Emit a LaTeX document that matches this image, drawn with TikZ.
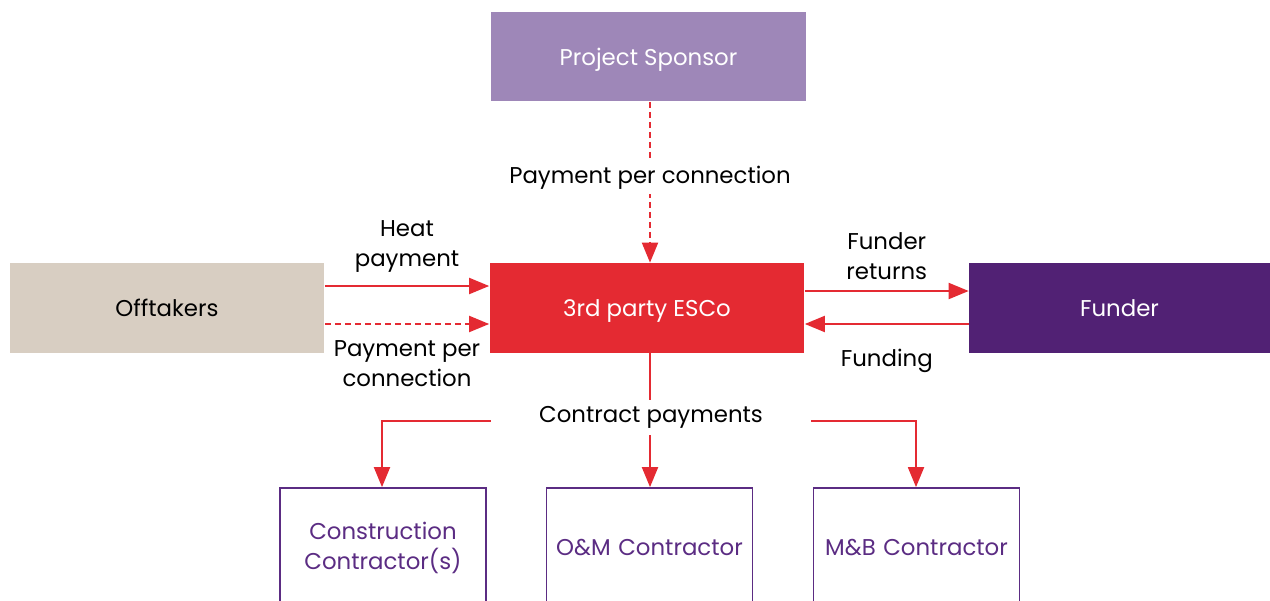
\documentclass[tikz,border=0pt]{standalone}
\usepackage{fontspec}
\setmainfont{Poppins}
\usepackage{xcolor}
\usetikzlibrary{arrows.meta, positioning}

\definecolor{escored}{HTML}{E42A32}
\definecolor{sponsorlilac}{HTML}{9E87B8}
\definecolor{offtakersand}{HTML}{D8CEC2}
\definecolor{funderplum}{HTML}{512174}
\definecolor{contractpurple}{HTML}{5B2C83}

\begin{document}
\begin{tikzpicture}[
  x=0.02cm, y=-0.02cm,
  font=\fontsize{13}{17}\selectfont,
  party/.style={
    rectangle, text centered, text height=10pt, text depth=0pt,
    minimum width=6.3cm, minimum height=1.8cm, inner sep=0pt
  },
  contractor/.style={
    rectangle, draw=contractpurple, fill=white, line width=1pt,
    text=contractpurple, text width=4cm, align=center,
    minimum width=4.12cm, minimum height=2.4cm, inner sep=0pt
  },
  flow/.style={draw=escored, line width=1.1pt,
    -{Triangle[length=0.4cm, width=0.32cm]}},
  promise/.style={flow, dash pattern=on 0.12cm off 0.08cm},
  lbl/.style={align=center, inner sep=3pt}
]
  \useasboundingbox (0,0) rectangle (1270,601);
  \clip (0,0) rectangle (1270,601);

  \node [party, fill=sponsorlilac, text=white] (sponsor) at (648.5,56.5) {Project Sponsor};
  \node [party, fill=offtakersand] (offtakers) at (167,308) {Offtakers};
  \node [party, fill=escored, text=white] (esco) at (647,308) {3rd party ESCo};
  \node [party, fill=funderplum, text=white, minimum width=6.02cm] (funder) at (1119.5,308) {Funder};

  \node [contractor] (cons) at (383,548) {Construction\\ Contractor(s)};
  \node [contractor] (om) at (649.5,548) {O\&M Contractor};
  \node [contractor] (mb) at (916.5,548) {M\&B Contractor};

  \draw [promise] (sponsor.south -| 650,0) -- (esco.north -| 650,0)
    node [pos=0.47, fill=white, lbl] {Payment per connection};

  \draw [flow] ([yshift=0.44cm]offtakers.east) -- ([yshift=0.44cm]esco.west)
    node [midway, above=4pt, lbl] {Heat\\ payment};
  \draw [promise] ([yshift=-0.32cm]offtakers.east) -- ([yshift=-0.32cm]esco.west)
    node [midway, below=6pt, lbl] {Payment per\\ connection};

  \draw [flow] ([yshift=0.34cm]esco.east) -- ([yshift=0.34cm]funder.west)
    node [midway, above=3pt, lbl] {Funder\\ returns};
  \draw [flow] ([yshift=-0.32cm]funder.west) -- ([yshift=-0.32cm]esco.east)
    node [midway, below=11pt, lbl] {Funding};

  % contract payments split
  \draw [flow] (esco.south -| 650,0) -- (om.north -| 650,0);
  \node [fill=white, minimum width=6.4cm, minimum height=0.7cm, inner sep=0pt] (pay) at (651,417) {Contract payments};
  \draw [flow] (pay.west |- 0,421) -| (cons.north -| 382,0);
  \draw [flow] (pay.east |- 0,421) -| (mb.north -| 916,0);
\end{tikzpicture}
\end{document}
